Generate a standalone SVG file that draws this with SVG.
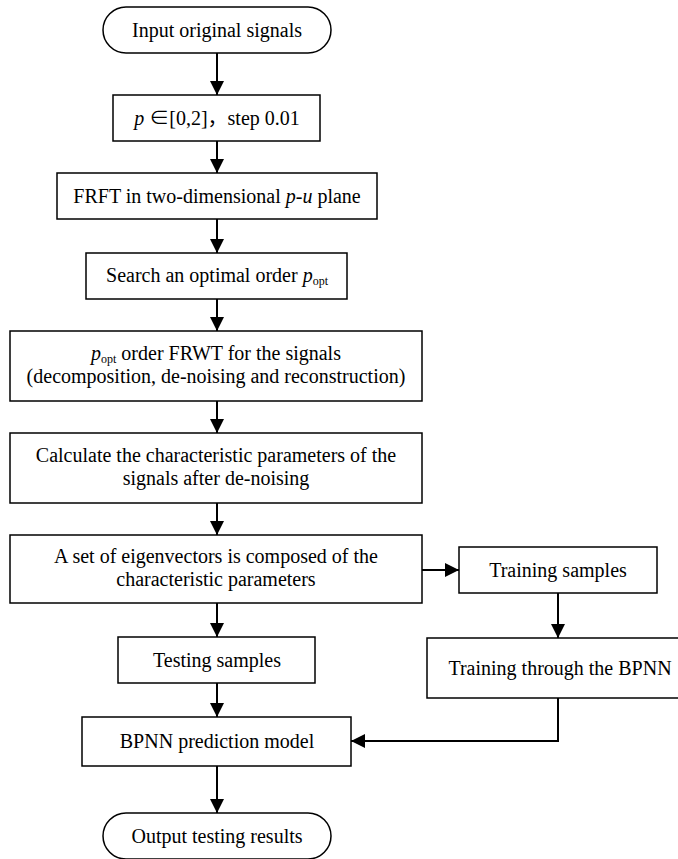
<svg xmlns="http://www.w3.org/2000/svg" width="678" height="859" viewBox="0 0 678 859">
<style>
.box{fill:#fff;stroke:#000;stroke-width:1.5}
.t{font-family:"Liberation Serif","Times New Roman","Noto Sans CJK SC",serif;font-size:20px;fill:#000;text-anchor:middle}
.i{font-style:italic}
.c{fill:none;stroke:#000;stroke-width:2}
</style>
<defs>
<marker id="ah" markerUnits="userSpaceOnUse" markerWidth="14" markerHeight="14" refX="14" refY="7" orient="auto">
<path d="M0,0 L14,7 L0,14 z" fill="#000"/>
</marker>
</defs>
<rect width="678" height="859" fill="#fff"/>
<g id="connectors">
<line class="c" x1="217" y1="53" x2="217" y2="95" marker-end="url(#ah)"/>
<line class="c" x1="217" y1="141" x2="217" y2="173" marker-end="url(#ah)"/>
<line class="c" x1="217" y1="219" x2="217" y2="253" marker-end="url(#ah)"/>
<line class="c" x1="217" y1="299" x2="217" y2="331" marker-end="url(#ah)"/>
<line class="c" x1="217" y1="401" x2="217" y2="433" marker-end="url(#ah)"/>
<line class="c" x1="217" y1="503" x2="217" y2="535" marker-end="url(#ah)"/>
<line class="c" x1="217" y1="603" x2="217" y2="637" marker-end="url(#ah)"/>
<line class="c" x1="217" y1="683" x2="217" y2="717" marker-end="url(#ah)"/>
<line class="c" x1="217" y1="766" x2="217" y2="813" marker-end="url(#ah)"/>
<line class="c" x1="422" y1="570" x2="459" y2="570" marker-end="url(#ah)"/>
<line class="c" x1="558" y1="593" x2="558" y2="638" marker-end="url(#ah)"/>
<path class="c" d="M558,698 V741 H351" marker-end="url(#ah)"/>
</g>
<g id="n1"><rect class="box" x="103" y="7" width="228" height="46" rx="23"/><text class="t" x="217" y="37">Input original signals</text></g>
<g id="n2"><rect class="box" x="113" y="95" width="207" height="46"/><text class="t" x="217" y="125"><tspan class="i">p</tspan> ∈[0,2]，step 0.01</text></g>
<g id="n3"><rect class="box" x="57" y="173" width="320" height="46"/><text class="t" x="217" y="203">FRFT in two-dimensional <tspan class="i">p-u</tspan> plane</text></g>
<g id="n4"><rect class="box" x="86" y="253" width="261" height="46"/><text class="t" x="217" y="282">Search an optimal order <tspan class="i">p</tspan><tspan font-size="12" dy="3">opt</tspan></text></g>
<g id="n5"><rect class="box" x="10" y="331" width="412" height="70"/><text class="t" x="216" y="360"><tspan class="i">p</tspan><tspan font-size="12" dy="3">opt</tspan><tspan dy="-3"> order FRWT for the signals</tspan></text><text class="t" x="216" y="383">(decomposition, de-noising and reconstruction)</text></g>
<g id="n6"><rect class="box" x="10" y="433" width="412" height="70"/><text class="t" x="216" y="462">Calculate the characteristic parameters of the</text><text class="t" x="216" y="485">signals after de-noising</text></g>
<g id="n7"><rect class="box" x="10" y="535" width="412" height="68"/><text class="t" x="216" y="563">A set of eigenvectors is composed of the</text><text class="t" x="216" y="586">characteristic parameters</text></g>
<g id="n8"><rect class="box" x="459" y="547" width="198" height="46"/><text class="t" x="558" y="577">Training samples</text></g>
<g id="n9"><rect class="box" x="427" y="638" width="266" height="60"/><text class="t" x="560" y="675">Training through the BPNN</text></g>
<g id="n10"><rect class="box" x="118" y="637" width="197" height="46"/><text class="t" x="217" y="667">Testing samples</text></g>
<g id="n11"><rect class="box" x="82" y="717" width="269" height="49"/><text class="t" x="217" y="748">BPNN prediction model</text></g>
<g id="n12"><rect class="box" x="103" y="813" width="228" height="46" rx="23"/><text class="t" x="217" y="843">Output testing results</text></g>
</svg>
